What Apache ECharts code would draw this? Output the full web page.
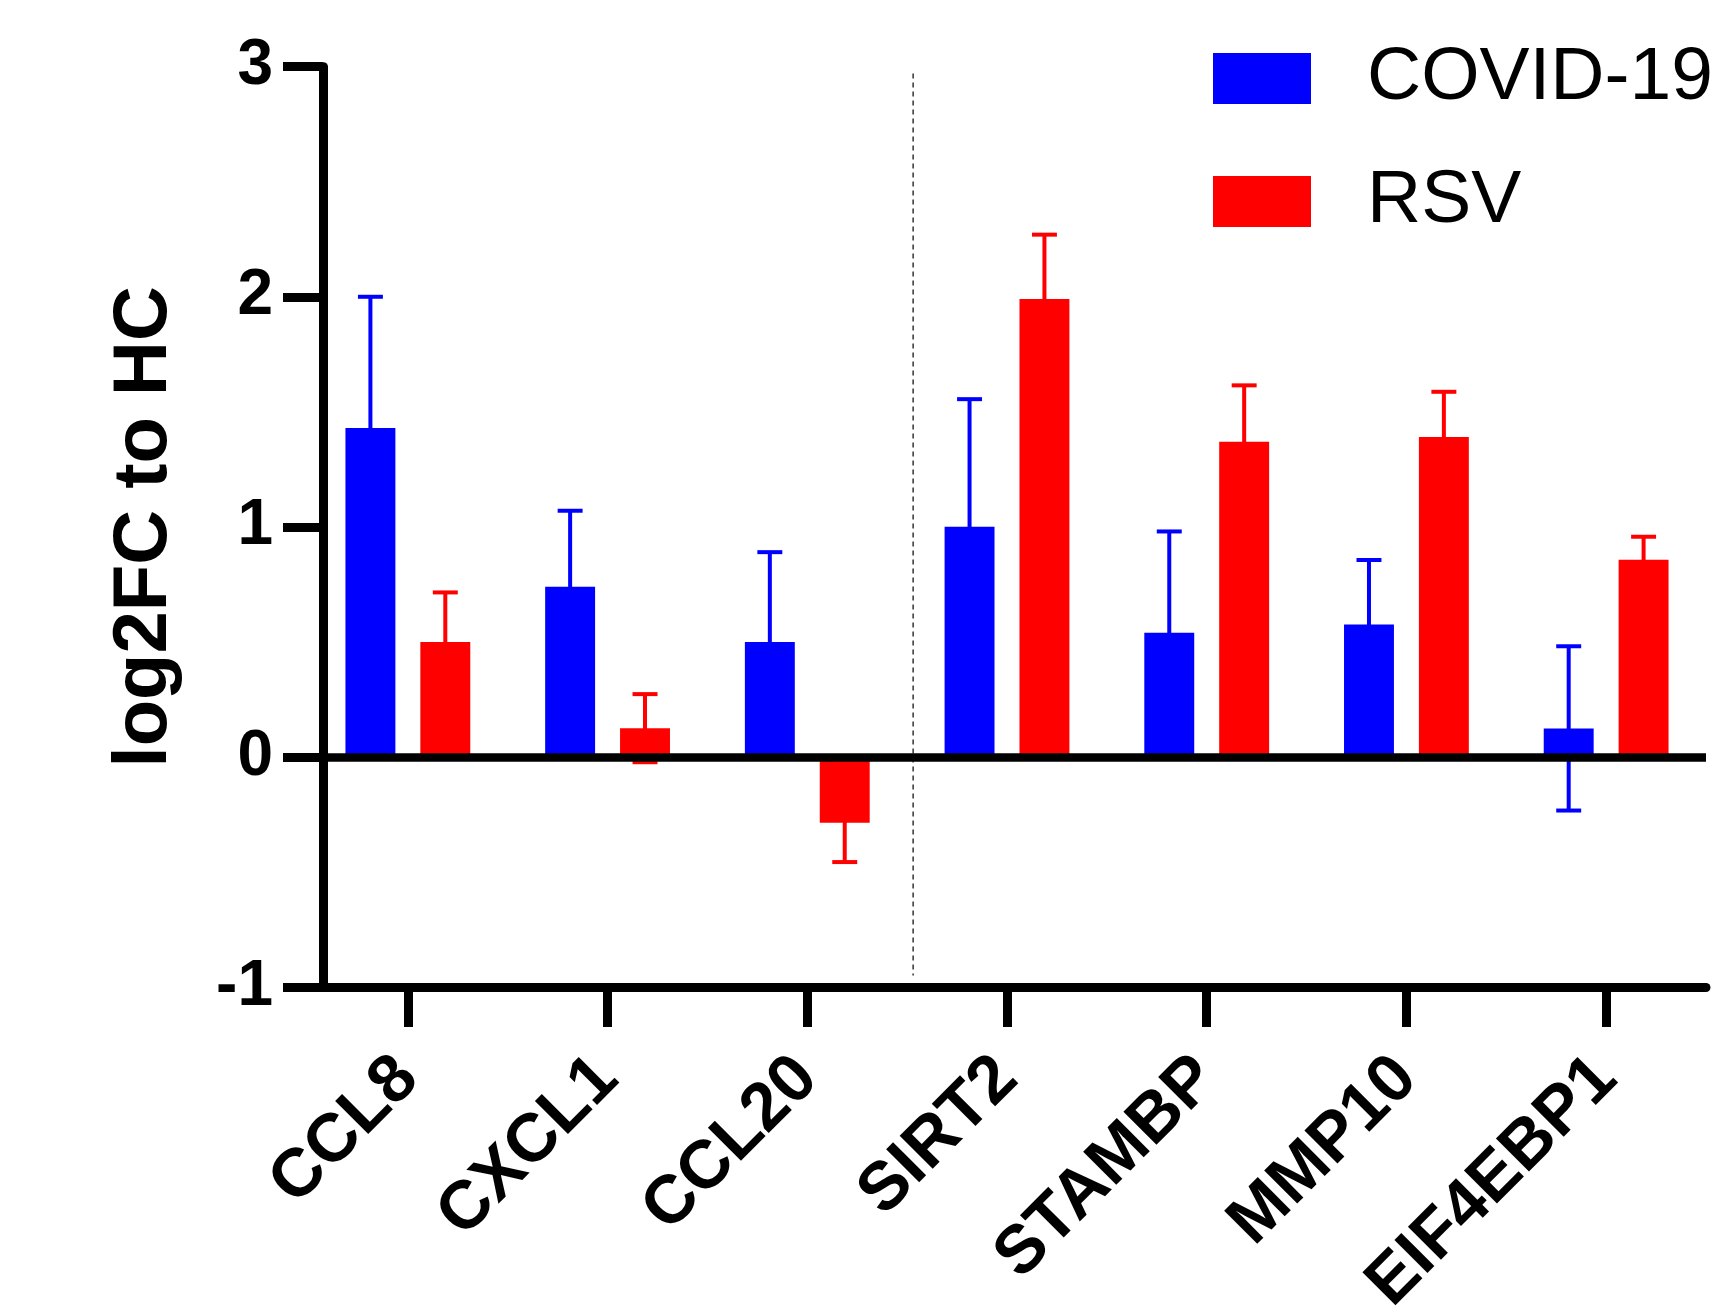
<!DOCTYPE html>
<html>
<head>
<meta charset="utf-8">
<script src="https://cdn.jsdelivr.net/npm/echarts@6/dist/echarts.min.js"></script>
<style>
  html, body { margin: 0; padding: 0; background: #fff; }
  #main { width: 1720px; height: 1313px; }
</style>
</head>
<body>
<div id="main"></div>
<script>
var genes = ['CCL8', 'CXCL1', 'CCL20', 'SIRT2', 'STAMBP', 'MMP10', 'EIF4EBP1'];
var covidMean = [1.43, 0.74, 0.50, 1.00, 0.54, 0.576, 0.124];
var covidErr = [0.57, 0.33, 0.39, 0.555, 0.44, 0.28, 0.357];
var rsvMean = [0.50, 0.125, -0.286, 1.99, 1.37, 1.39, 0.857];
var rsvErr = [0.215, 0.148, 0.171, 0.28, 0.245, 0.197, 0.10];
var yTicks = { min: -1, max: 3, step: 1 };
// dashed separator between chemokines and the rest (x in band units, y in data)
var sepX = 3.03;
var sepY = [2.97, -0.95];

var font = 'Liberation Sans, Arial, Helvetica, sans-serif';

function errData(mean, err) {
    return mean.map(function (m, i) { return [i, m - err[i], m + err[i]]; });
}

// offset is the bar center shift as a fraction of band width
function errRender(offset, color) {
    return function (params, api) {
        var band = api.size([1, 0])[0];
        var hi = api.coord([api.value(0), api.value(2)]);
        var lo = api.coord([api.value(0), api.value(1)]);
        var x = hi[0] + offset * band;
        var cap = band * 0.0625;
        var st = { stroke: color, lineWidth: 4 };
        return {
            type: 'group',
            children: [
                { type: 'line', shape: { x1: x, y1: hi[1], x2: x, y2: lo[1] }, style: st },
                { type: 'line', shape: { x1: x - cap, y1: hi[1], x2: x + cap, y2: hi[1] }, style: st },
                { type: 'line', shape: { x1: x - cap, y1: lo[1], x2: x + cap, y2: lo[1] }, style: st }
            ]
        };
    };
}

var myChart = echarts.init(document.getElementById('main'));

var option = {
    animation: false,
    backgroundColor: '#fff',
    textStyle: { fontFamily: font },
    grid: { left: 308, right: 14, top: 66.7, bottom: 326, containLabel: false, outerBoundsMode: 'none' },
    legend: {
        data: ['COVID-19', 'RSV'],
        orient: 'vertical',
        left: 1208,
        top: 36,
        icon: 'rect',
        itemWidth: 98,
        itemHeight: 51,
        itemGap: 48,
        textStyle: { fontSize: 75, color: '#000', fontFamily: font, padding: [0, 0, 0, 51] }
    },
    xAxis: [{
        type: 'category',
        data: genes,
        axisLine: { onZero: false, lineStyle: { color: '#000', width: 9 } },
        axisTick: { show: true, alignWithLabel: true, length: 40, lineStyle: { color: '#000', width: 9 } },
        axisLabel: {
            interval: 0, rotate: 45, margin: 81,
            fontSize: 68, fontWeight: 'bold', color: '#000', fontFamily: font
        }
    }, {
        type: 'value', min: 0, max: genes.length, show: false
    }],
    yAxis: {
        type: 'value',
        min: yTicks.min,
        max: yTicks.max,
        interval: yTicks.step,
        offset: -15,
        name: 'log2FC to HC',
        nameLocation: 'middle',
        nameGap: 140,
        nameTextStyle: { fontSize: 76, fontWeight: 'bold', color: '#000', fontFamily: font },
        axisLine: { show: true, lineStyle: { color: '#000', width: 9 } },
        axisTick: { show: true, length: 40, lineStyle: { color: '#000', width: 9 } },
        axisLabel: { margin: 50, fontSize: 64, fontWeight: 'bold', color: '#000', fontFamily: font },
        splitLine: { show: false }
    },
    series: [
        {
            name: 'COVID-19',
            type: 'bar',
            data: covidMean,
            barWidth: '25%',
            barGap: '50%',
            itemStyle: { color: '#0000ff' },
            z: 3,
            markLine: {
                silent: true,
                symbol: 'none',
                label: { show: false },
                lineStyle: { color: '#000', width: 8.5, type: 'solid' },
                data: [{ yAxis: 0 }]
            }
        },
        {
            name: 'RSV',
            type: 'bar',
            data: rsvMean,
            barWidth: '25%',
            barGap: '50%',
            itemStyle: { color: '#ff0000' },
            z: 3
        },
        {
            type: 'custom',
            data: errData(covidMean, covidErr),
            renderItem: errRender(-0.1875, '#0000ff'),
            z: 2,
            silent: true
        },
        {
            type: 'custom',
            data: errData(rsvMean, rsvErr),
            renderItem: errRender(0.1875, '#ff0000'),
            z: 2,
            silent: true
        },
        {
            type: 'line',
            xAxisIndex: 1,
            data: [[sepX, sepY[0]], [sepX, sepY[1]]],
            showSymbol: false,
            silent: true,
            lineStyle: { color: '#333', width: 1.5, type: [5, 4] },
            z: 1
        }
    ]
};

myChart.setOption(option);
</script>
</body>
</html>
